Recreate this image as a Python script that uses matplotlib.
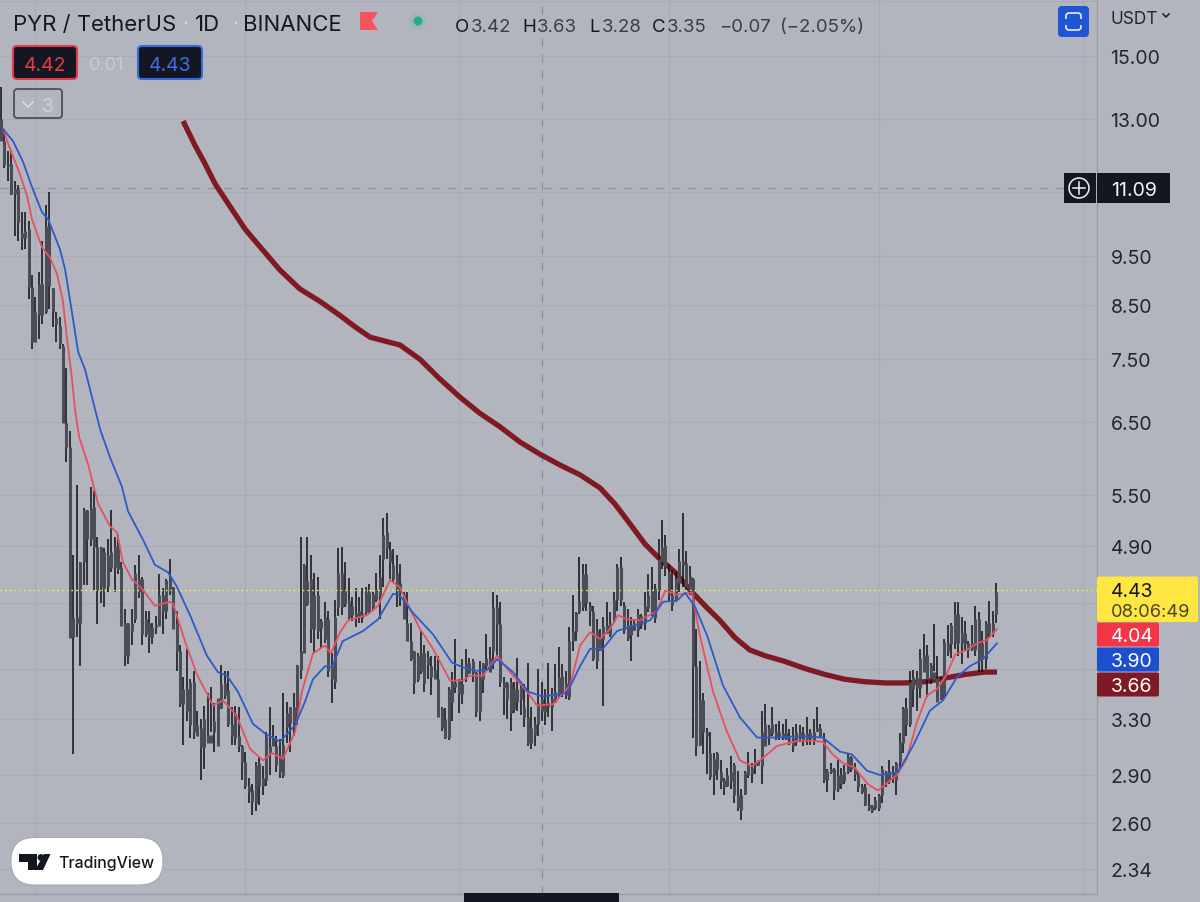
import matplotlib
matplotlib.use("Agg")
import matplotlib.pyplot as plt
from matplotlib.patches import FancyBboxPatch, Rectangle, Circle, Polygon
from matplotlib.ticker import NullLocator, FixedLocator, FixedFormatter

highs = [13.97,12.69,12.07,12.1,11.27,11.16,10.5,10.5,10.3,9.1,
 8.65,9.16,9.82,10.67,11.0,8.83,8.35,8.27,7.77,7.35,
 6.36,4.8,5.63,4.72,5.34,5.32,5.6,5.55,5.0,4.88,
 4.87,4.97,5.32,5.0,5.02,4.72,4.24,4.11,4.24,4.69,
 4.8,4.56,4.22,4.22,4.11,4.17,4.59,4.45,4.54,4.75,
 4.46,4.22,3.9,3.63,3.87,3.61,3.68,3.36,3.3,3.4,
 3.5,3.55,3.42,3.39,3.73,3.68,3.68,3.39,3.4,3.39,
 3.11,3.06,2.88,2.84,2.99,3.02,2.96,3.2,3.39,3.25,
 3.17,3.15,3.5,3.43,3.39,3.5,3.73,5.0,4.7,5.0,
 4.8,4.6,4.56,4.14,4.31,4.22,3.83,4.33,4.87,4.88,
 4.72,4.55,4.36,4.45,4.36,4.45,4.46,4.49,4.41,4.6,
 4.8,5.22,5.28,4.94,4.86,4.8,4.7,4.41,4.41,4.11,
 3.85,3.83,4.03,3.9,3.85,3.81,3.81,3.81,3.39,3.38,
 3.55,3.67,3.96,3.61,3.78,3.87,3.79,3.78,3.67,3.76,
 3.75,4.0,3.89,4.41,4.38,4.31,3.63,3.59,3.62,3.59,
 3.79,3.59,3.57,3.75,3.39,3.31,3.7,3.59,3.53,3.75,
 3.54,3.74,3.89,3.74,3.68,4.07,4.38,4.21,4.77,4.7,
 4.7,4.31,4.27,4.14,4.05,4.16,4.31,4.21,4.41,4.7,
 4.77,4.31,4.24,4.16,4.14,4.24,4.19,4.41,4.59,4.67,
 4.49,4.97,5.2,5.02,4.7,4.63,4.61,4.86,5.28,4.84,
 4.68,4.55,4.05,3.76,3.5,3.23,3.2,3.05,3.06,3.0,
 2.88,2.95,3.03,2.98,2.93,2.81,2.93,3.06,2.98,3.08,
 2.99,3.36,3.41,3.25,3.39,3.26,3.28,3.26,3.3,3.22,
 3.24,3.26,3.25,3.24,3.31,3.22,3.3,3.39,3.26,3.19,
 2.94,2.98,2.95,3.0,2.95,2.97,3.04,3.03,2.98,2.92,
 2.84,2.84,2.78,2.71,2.76,2.78,2.96,2.93,3.0,2.96,
 2.99,3.19,3.39,3.46,3.68,3.69,3.68,3.87,4.0,3.9,
 3.75,4.1,3.81,3.63,3.96,4.09,4.11,4.31,4.31,4.16,
 4.12,3.94,4.09,4.27,4.21,4.03,4.12,4.32,4.22,4.5]

lows = [12.35,11.62,11.27,10.92,9.94,9.82,9.63,9.65,8.61,7.68,
 7.8,7.85,8.13,8.31,8.41,8.08,7.8,7.68,6.49,5.93,
 3.97,3.04,3.98,3.72,4.48,4.48,4.9,4.43,4.1,4.3,
 4.26,4.41,4.61,4.41,4.59,4.08,3.72,3.74,3.9,4.11,
 4.35,3.9,3.98,3.83,3.91,4.0,4.08,4.0,4.14,4.38,
 4.05,3.68,3.39,3.11,3.28,3.16,3.15,3.17,2.87,2.94,
 3.16,3.2,3.06,3.1,3.37,3.45,3.24,3.11,3.11,3.06,
 2.87,2.81,2.72,2.65,2.67,2.71,2.77,2.83,2.9,3.1,
 2.92,2.88,2.88,3.12,3.06,3.17,3.25,3.61,3.83,4.27,
 3.92,3.83,3.96,3.87,3.92,3.63,3.42,3.53,4.17,4.18,
 4.26,4.14,4.12,4.07,4.11,4.11,4.17,4.2,4.22,4.31,
 4.14,4.46,4.75,4.54,4.5,4.26,4.27,4.14,3.94,3.76,
 3.49,3.59,3.65,3.51,3.61,3.48,3.61,3.31,3.21,3.15,
 3.14,3.28,3.5,3.34,3.41,3.59,3.65,3.59,3.31,3.28,
 3.5,3.7,3.67,3.7,3.81,3.55,3.33,3.3,3.21,3.34,
 3.36,3.33,3.24,3.1,3.08,3.1,3.17,3.28,3.25,3.31,
 3.21,3.42,3.47,3.47,3.45,3.44,3.85,3.94,4.19,4.22,
 4.22,4.08,3.76,3.7,3.85,3.4,4.0,3.98,4.11,4.22,
 4.27,4.0,3.94,3.76,4.03,3.98,4.05,4.04,4.21,4.17,
 4.11,4.33,4.64,4.57,4.32,4.22,4.31,4.41,4.46,4.43,
 4.38,3.16,3.03,3.1,3.04,2.91,2.87,2.77,2.87,2.81,
 2.77,2.82,2.81,2.72,2.67,2.62,2.77,2.88,2.85,2.91,
 2.96,2.84,3.1,3.11,3.17,3.14,3.14,3.14,3.14,3.11,
 3.06,3.1,3.13,3.1,3.11,3.11,3.11,3.2,3.16,2.85,
 2.79,2.91,2.74,2.79,2.81,2.84,2.91,2.92,2.86,2.79,
 2.78,2.7,2.67,2.66,2.68,2.67,2.72,2.82,2.84,2.85,
 2.77,2.95,3.05,3.17,3.24,3.39,3.36,3.46,3.67,3.47,
 3.57,3.68,3.44,3.44,3.45,3.81,3.79,3.87,3.81,3.74,
 3.85,3.79,3.85,3.81,3.67,3.67,3.7,3.98,3.98,4.11]

body_tops = [13.0,12.35,11.73,11.73,11.07,11.07,10.0,10.05,10.1,8.85,
 8.36,8.9,8.9,10.17,10.17,8.83,8.24,8.09,7.73,6.49,
 6.14,4.15,4.16,4.72,5.32,5.32,5.34,5.35,4.88,4.88,
 4.83,4.8,4.83,4.9,4.9,4.67,4.11,4.11,4.11,4.6,
 4.54,4.54,4.14,4.11,4.07,4.09,4.38,4.38,4.53,4.56,
 4.46,4.11,3.85,3.53,3.53,3.59,3.59,3.25,3.23,3.3,
 3.18,3.18,3.28,3.46,3.57,3.58,3.52,3.26,3.34,3.17,
 3.1,2.99,2.83,2.8,2.97,2.98,2.88,3.17,3.1,3.15,
 3.1,3.03,3.11,3.34,3.39,3.39,3.73,3.85,4.69,4.52,
 4.54,4.38,4.38,4.12,4.16,4.14,3.73,4.16,4.6,4.6,
 4.43,4.32,4.27,4.2,4.22,4.2,4.41,4.41,4.39,4.43,
 4.56,5.02,5.05,4.85,4.69,4.6,4.5,4.39,4.11,3.94,
 3.85,3.82,3.83,3.83,3.8,3.72,3.69,3.61,3.38,3.3,
 3.53,3.59,3.59,3.61,3.57,3.75,3.75,3.76,3.67,3.63,
 3.75,3.79,3.79,4.26,4.26,4.1,3.59,3.58,3.59,3.53,
 3.53,3.55,3.39,3.31,3.23,3.26,3.42,3.45,3.42,3.42,
 3.45,3.51,3.63,3.64,3.58,3.94,4.03,4.2,4.32,4.59,
 4.59,4.28,4.21,4.04,3.98,4.08,4.09,4.11,4.33,4.67,
 4.67,4.28,4.09,4.09,4.11,4.19,4.17,4.27,4.38,4.43,
 4.45,4.75,4.88,4.91,4.6,4.38,4.53,4.73,4.73,4.71,
 4.57,4.54,3.72,3.44,3.44,3.2,3.05,3.01,3.05,2.92,
 2.87,2.9,2.92,2.97,2.77,2.77,2.92,2.97,2.95,2.99,
 3.0,3.2,3.26,3.23,3.26,3.2,3.2,3.19,3.19,3.16,
 3.16,3.2,3.2,3.19,3.19,3.2,3.2,3.23,3.23,3.15,
 2.93,2.94,2.94,2.9,2.91,2.92,3.02,3.02,2.94,2.9,
 2.83,2.82,2.71,2.7,2.74,2.77,2.94,2.92,2.93,2.92,
 2.98,3.13,3.38,3.38,3.59,3.63,3.62,3.79,3.82,3.82,
 3.73,3.67,3.62,3.61,3.93,3.92,4.09,4.19,4.19,4.01,
 4.01,3.92,3.92,4.14,4.14,3.92,4.11,4.11,4.11,4.41]

body_bottoms = [12.35,11.7,11.66,10.95,10.95,10.27,9.9,9.9,8.85,7.8,
 7.8,8.3,8.3,8.36,8.87,8.36,8.13,7.77,6.49,6.14,
 3.97,3.98,4.11,4.11,4.72,4.97,4.97,4.88,4.43,4.46,
 4.45,4.47,4.66,4.67,4.65,4.08,3.81,3.81,4.03,4.14,
 4.41,4.0,4.0,3.98,3.98,4.07,4.08,4.22,4.22,4.41,
 4.05,3.85,3.41,3.41,3.36,3.25,3.2,3.17,3.09,3.09,
 3.12,3.12,3.2,3.1,3.38,3.48,3.26,3.17,3.16,3.1,
 2.99,2.83,2.79,2.73,2.72,2.83,2.83,2.87,3.04,3.1,
 2.97,2.92,2.9,3.24,3.27,3.27,3.34,3.69,3.83,4.29,
 4.05,4.05,4.03,4.06,3.96,3.68,3.61,3.59,4.26,4.26,
 4.29,4.16,4.18,4.15,4.16,4.15,4.21,4.22,4.26,4.33,
 4.38,4.75,4.87,4.72,4.54,4.41,4.4,4.14,3.94,3.78,
 3.58,3.61,3.68,3.58,3.73,3.63,3.61,3.31,3.23,3.16,
 3.16,3.43,3.55,3.49,3.49,3.63,3.66,3.66,3.35,3.36,
 3.61,3.72,3.67,3.85,4.1,3.59,3.54,3.45,3.34,3.37,
 3.43,3.45,3.31,3.12,3.12,3.18,3.26,3.36,3.35,3.39,
 3.39,3.43,3.5,3.51,3.48,3.47,3.94,4.03,4.21,4.26,
 4.3,4.22,3.78,3.76,3.86,3.96,4.01,3.99,4.12,4.33,
 4.33,4.04,3.97,3.99,4.04,4.04,4.09,4.11,4.25,4.2,
 4.15,4.43,4.72,4.67,4.38,4.28,4.33,4.5,4.69,4.46,
 4.42,3.72,3.1,3.11,3.2,3.17,2.89,2.9,2.94,2.86,
 2.82,2.83,2.86,2.77,2.69,2.68,2.78,2.9,2.91,2.97,
 2.97,2.96,3.1,3.17,3.19,3.16,3.17,3.16,3.15,3.14,
 3.1,3.13,3.16,3.14,3.15,3.15,3.14,3.21,3.17,2.87,
 2.87,2.92,2.8,2.81,2.84,2.86,2.92,2.94,2.91,2.82,
 2.79,2.71,2.69,2.67,2.69,2.69,2.77,2.86,2.86,2.88,
 2.87,2.99,3.12,3.25,3.26,3.53,3.54,3.54,3.67,3.61,
 3.61,3.61,3.43,3.45,3.47,3.85,3.91,3.92,3.92,3.92,
 3.91,3.86,3.87,3.86,3.78,3.78,3.78,4.01,4.01,4.19]

fast_x = [0.6,2.6,5.5,7.6,9,11.9,14.2,16.3,18,19.2,20.6,21.5,22.7,25.3,28.2,31.7,33.7,35.4,38,41.2,
 44.7,49.1,50,53.4,56.9,61.6,64.5,68.5,72.3,76.1,78.7,81.9,85.4,87.4,90.6,94.1,95.8,98.5,100.8,106.3,
 109.5,113,115.9,118.8,121.7,125.5,130.4,134.2,136.2,140,144.1,148.7,152.8,155.7,160.3,165.3,168.2,171.1,174,176.9,
 179.2,181.8,185.6,190.5,192.9,196.3,200.7,203,206.8,210.9,214.6,218.1,221,225.4,232.1,238.7,241.6,244.6,248,251.8,
 254.7,260.2,263.1,266,269,271.9,274.7,277.1,280.6,283.5,286.4,289.3]
fast_ma = [12.69,12.14,11.45,10.89,10.33,9.69,9.47,9.11,8.56,7.85,7.18,6.69,6.28,5.9,5.39,5.12,5.05,4.72,4.54,4.43,
 4.27,4.31,4.29,3.94,3.65,3.4,3.44,3.32,3.08,3.0,3.05,3.01,3.2,3.51,3.83,3.9,3.83,4.02,4.13,4.18,
 4.27,4.53,4.45,4.24,4.05,3.87,3.6,3.6,3.64,3.64,3.81,3.64,3.51,3.4,3.41,3.56,3.9,4.02,3.96,4.05,
 4.18,4.14,4.13,4.22,4.42,4.38,4.4,3.99,3.51,3.2,3.0,2.96,3.01,3.1,3.14,3.13,3.04,2.98,2.95,2.84,
 2.8,2.9,3.01,3.27,3.48,3.53,3.65,3.82,3.86,3.92,3.95,4.05]

slow_x = [0.6,3.5,6.4,9,11.9,13.7,17.1,18.6,20,22.4,24.4,28.8,31.7,35.1,36.9,41.2,44.7,48.5,51.1,54.9,
 59.8,63,65.6,68.8,73.2,76.7,81,85.4,88.3,90.6,94.1,96.1,99.3,105.1,109.5,113.9,115.9,119.7,125.5,131,
 134.2,138.2,141.4,144.1,148.7,153.1,157.4,164.4,168.2,171.1,174.8,178.9,183.6,188.5,192.3,196.3,198.7,201.6,205.1,209.7,
 214.6,219.6,226.3,232.1,238.7,243.7,247.2,251.5,255.3,260.5,264.9,269.8,273.6,277.7,281.4,285.2,289.3]
slow_ma = [12.69,12.35,11.78,11.12,10.5,10.33,9.65,9.22,8.61,7.63,7.33,6.39,5.99,5.61,5.3,4.97,4.69,4.61,4.46,4.18,
 3.81,3.67,3.64,3.51,3.26,3.19,3.13,3.25,3.43,3.61,3.72,3.71,3.94,4.03,4.14,4.39,4.37,4.2,4.0,3.75,
 3.71,3.68,3.69,3.78,3.67,3.51,3.47,3.5,3.72,3.87,3.87,4.03,4.08,4.13,4.31,4.32,4.4,4.26,3.99,3.56,
 3.31,3.16,3.16,3.17,3.16,3.06,3.04,2.93,2.9,2.92,3.1,3.36,3.44,3.63,3.72,3.78,3.92]

long_x = [52.9,56.3,59.3,62.2,66.5,70.9,75.8,81,86.8,92.7,98.5,102.8,107.2,111.5,115.9,121.7,127.5,133.3,139.1,144.9,
 150.7,156.5,162.4,168.2,174,178.3,182.7,187,191.4,195.8,200.1,204.5,208.8,213.2,217.5,221.9,227.7,233.5,239.3,245.1,
 250.9,256.8,262.6,268.4,274.2,280,285.8,289.3]
long_ma = [12.93,12.24,11.72,11.2,10.64,10.1,9.65,9.2,8.81,8.56,8.29,8.08,7.89,7.82,7.75,7.5,7.17,6.88,6.63,6.43,
 6.21,6.04,5.89,5.76,5.59,5.39,5.15,4.92,4.75,4.61,4.43,4.27,4.13,3.97,3.86,3.81,3.76,3.7,3.65,3.61,
 3.59,3.58,3.58,3.59,3.62,3.65,3.67,3.67]

y_ticks = [17.0,15.0,13.0,11.0,9.5,8.5,7.5,6.5,5.5,4.9,4.3,3.7,3.3,2.9,2.6,2.34]
y_labels = ["","15.00","13.00","","9.50","8.50","7.50","6.50","5.50","4.90","","","3.30","2.90","2.60","2.34"]
x_grid = [9.9,70.9,133,194,255,314.3]
last_price = 4.43
cross_price = 11.09
cross_bar = 157
ohlc_parts = [(455,"O","#131722"),(471,"3.42","#3b3e49"),(522,"H","#131722"),(537,"3.63","#3b3e49"),
              (589,"L","#131722"),(602,"3.28","#3b3e49"),(652,"C","#131722"),(667,"3.35","#3b3e49"),
              (719,"\u22120.07","#3b3e49"),(780,"(\u22122.05%)","#3b3e49")]

BG = "#b2b5be"
GRID = "#a8abb5"
plt.rcParams["font.family"] = ["Inter", "DejaVu Sans"]
W, H = 1200, 903
fig = plt.figure(figsize=(W/100, H/100), dpi=100, facecolor=BG)
ax = fig.add_axes([0, (H-895)/H, 1096.5/W, 895/H], facecolor=BG)
ax.set_yscale("log")
ax.set_ylim(2.21, 17.09)
ax.set_xlim(-0.29, 318.2)
ax.yaxis.tick_right()
ax.yaxis.set_minor_locator(NullLocator())
ax.yaxis.set_major_locator(FixedLocator(y_ticks))
ax.yaxis.set_major_formatter(FixedFormatter(y_labels))
ax.set_xticks(x_grid)
ax.set_xticklabels([])
ax.tick_params(axis="both", length=0, which="both")
ax.tick_params(axis="y", pad=10, labelsize=14, labelcolor="#23262f")
ax.grid(True, color=GRID, lw=0.8, zorder=0)
for s in ("left", "top"):
    ax.spines[s].set_visible(False)
for s in ("right", "bottom"):
    ax.spines[s].set_color("#989ba6")
    ax.spines[s].set_linewidth(0.9)

ax.axvline(cross_bar, color="#8c8f99", lw=0.9, dashes=(6.4, 6.4), zorder=1)
ax.axhline(cross_price, color="#8c8f99", lw=0.9, dashes=(6.4, 6.4), zorder=1)
ax.axhline(last_price, color="#f5ea4a", lw=1.0, dashes=(1.2, 2.2), zorder=4)

xs = list(range(len(highs)))
ax.plot(long_x, long_ma, color="#7f1a24", lw=3.8, solid_capstyle="butt", zorder=2)
ax.vlines(xs, lows, highs, color="#0e0f14", lw=1.1, zorder=3)
ax.vlines(xs, body_bottoms, body_tops, color="#4a4c56", lw=2.2, zorder=3)
ax.plot(fast_x, fast_ma, color="#e8505f", lw=1.3, zorder=5)
ax.plot(slow_x, slow_ma, color="#2d5ac8", lw=1.3, zorder=5)

ov = fig.add_axes([0, 0, 1, 1], facecolor="none", zorder=10)
ov.set_xlim(0, W)
ov.set_ylim(H, 0)
ov.axis("off")

def rbox(x0, y0, x1, y1, r, fc, ec="none", lw=0):
    p = FancyBboxPatch((x0+r, y0+r), x1-x0-2*r, y1-y0-2*r, boxstyle=f"round,pad={r},rounding_size={r}",
                       fc=fc, ec=ec, lw=lw, mutation_aspect=1)
    ov.add_patch(p)
    return p

def txt(x, y, s, size=14, color="#131722", ha="left", weight="normal"):
    ov.text(x, y, s, fontsize=size, color=color, ha=ha, va="center_baseline", fontweight=weight)

# header
txt(13, 23, "PYR / TetherUS", 15.9)
txt(183, 23, "\u00b7", 14, "#d0d2d8")
txt(195, 23, "1D", 15.9)
txt(232, 23, "\u00b7", 14, "#d0d2d8")
txt(243, 23, "BINANCE", 15.9)
ov.add_patch(Polygon([(360,13),(378,13),(372,22),(378,31),(360,31)], fc="#f7525f", ec="none"))
ov.add_patch(Circle((418,22), 9, fc="#a2b6b4", ec="none"))
ov.add_patch(Circle((418,22), 4.5, fc="#22ab94", ec="none"))
for x, s, c in ohlc_parts:
    txt(x, 25, s, 13.4, c)

# order boxes
rbox(13, 47, 77, 80, 4, "#131722", "#e63a4c", 1.5)
txt(45, 64, "4.42", 14, "#e6394b", "center")
txt(107, 64, "0.01", 13, "#c9cbd3", "center")
rbox(138, 47, 202, 80, 4, "#131722", "#3a68e0", 1.5)
txt(170, 64, "4.43", 14, "#3f6be8", "center")
rbox(14, 90, 62, 119, 3, "none", "#3c3f49", 1.1)
ov.plot([23,28,33],[103,108,103], color="#d5d7dd", lw=1.3)
txt(48, 105, "3", 14, "#d0d2d8", "center")

# top-right button and currency
rbox(1058, 7, 1089, 38, 4, "#1f55d6")
rbox(1066, 14, 1081, 31, 3, "none", "#e8ecf8", 1.2)
ov.add_patch(Rectangle((1064,19.5), 19, 6, fc="#1f55d6", ec="none", zorder=3))
txt(1111, 18, "USDT", 12.4, "#23262f")
ov.plot([1163,1166,1169],[15,18,15], color="#23262f", lw=1.2)

# crosshair price
ov.add_patch(Rectangle((1064,173.5), 32, 30.5, fc="#131722", ec="none"))
ov.add_patch(Rectangle((1096.5,173.5), 73.5, 30.5, fc="#131722", ec="none"))
ov.add_patch(Circle((1079,189), 10, fc="none", ec="#f0f3fa", lw=1.1))
ov.plot([1073,1085],[189,189], color="#f0f3fa", lw=1.1)
ov.plot([1079,1079],[183,195], color="#f0f3fa", lw=1.1)
txt(1111, 189.5, "11.09", 14, "#f0f3fa")

# price tags
rbox(1097, 577.5, 1198, 623, 2, "#ffe642")
txt(1111, 590.5, "4.43", 14, "#131722")
txt(1111, 610.5, "08:06:49", 13.2, "#4a4524")
rbox(1097, 623.5, 1159, 647.5, 2, "#f23645")
txt(1111, 635.5, "4.04", 14, "#ffffff")
rbox(1097, 648.5, 1159, 672.5, 2, "#1c4fcf")
txt(1111, 660.5, "3.90", 14, "#ffffff")
rbox(1097, 673.5, 1159, 697.5, 2, "#7f1a24")
txt(1111, 685.5, "3.66", 14, "#ffffff")

# bottom scroll thumb
ov.add_patch(Rectangle((464,894.5), 155, 8.5, fc="#131722", ec="none"))

# TradingView badge
rbox(11, 838.5, 163, 886, 23.5, "#ffffff", "#a8aab3", 0.8)
ov.add_patch(Polygon([(19,855),(37,855),(37,871),(28,871),(28,863),(19,863)], fc="#131722", ec="none"))
ov.add_patch(Circle((41,858.5), 3.4, fc="#131722", ec="none"))
ov.add_patch(Polygon([(44,855),(50.5,855),(43,871),(35,871)], fc="#131722", ec="none"))
txt(58, 862.5, "TradingView", 11.4, "#131722", weight="medium")

fig.savefig("out.png", dpi=100, facecolor=BG)
